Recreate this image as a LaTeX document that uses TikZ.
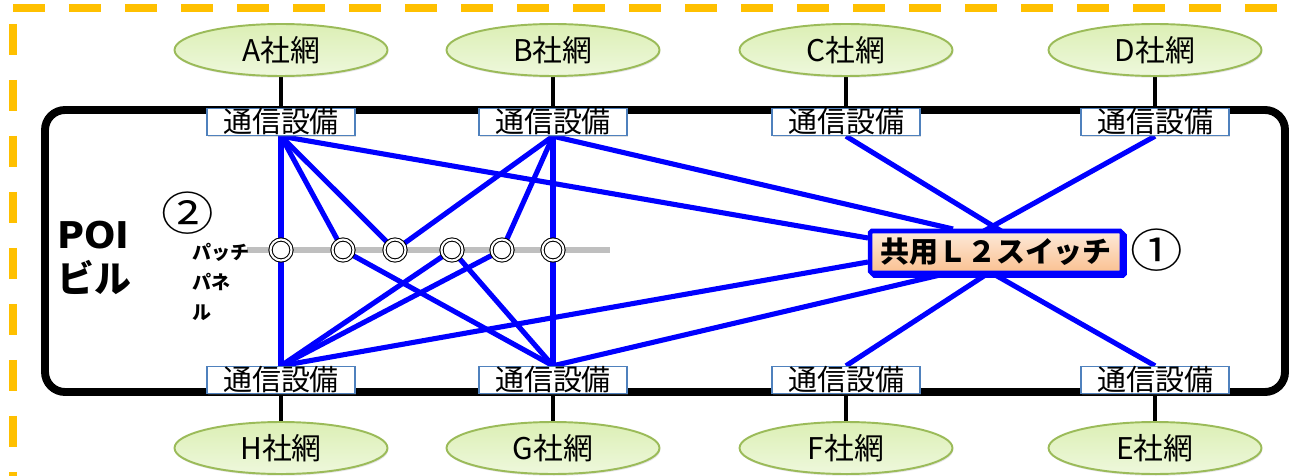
\documentclass[tikz,border=0pt]{standalone}
\usepackage{fontspec}
\setmainfont{Noto Sans CJK JP}
\newfontfamily\latinbold{DejaVu Sans}
\usetikzlibrary{shapes.geometric,calc,shadows}
\pgfdeclarelayer{bg}
\pgfsetlayers{bg,main}
\definecolor{poiorange}{HTML}{FFC000}
\definecolor{netgreen}{HTML}{9BBB59}
\definecolor{netfilltop}{HTML}{DCEFB5}
\definecolor{netfillbot}{HTML}{EEF8DC}
\definecolor{boxblue}{HTML}{4F81BD}
\definecolor{swtop}{HTML}{FDEADA}
\definecolor{swbot}{HTML}{FAC090}
\definecolor{panelgray}{HTML}{BFBFBF}
\tikzstyle{net} = [ellipse,draw=netgreen,line width=1.1pt,top color=netfilltop,bottom color=netfillbot,minimum width=4.26cm,minimum height=1.04cm,inner sep=0pt,font=\fontsize{17}{18}\selectfont,drop shadow={opacity=0.2,shadow xshift=0.5pt,shadow yshift=-1pt}]
\tikzstyle{eq} = [rectangle,draw=boxblue,line width=0.8pt,fill=white,minimum width=2.96cm,minimum height=0.54cm,inner sep=0pt,font=\fontsize{16.5}{18}\selectfont,drop shadow={opacity=0.25,shadow xshift=0.6pt,shadow yshift=-1pt}]
\tikzstyle{port} = [circle,draw=black,double=white,double distance=1.2pt,line width=0.6pt,fill=white,minimum size=0.42cm,inner sep=0pt]
\tikzstyle{sw} = [rectangle,draw=blue,line width=2.6pt,top color=swtop,bottom color=swbot,minimum width=5.04cm,minimum height=0.84cm,inner sep=0pt,rounded corners=1pt,font=\bfseries\fontsize{16.5}{18}\selectfont,copy shadow={shadow xshift=1.5pt,shadow yshift=-1.5pt}]
\tikzstyle{link} = [blue,line width=2.9pt]
\tikzstyle{drop} = [black,line width=1.8pt]

\begin{document}
\begin{tikzpicture}[x=0.02cm,y=-0.02cm]
  \useasboundingbox (0,0) rectangle (1291,476);
  \draw[poiorange,line width=4.5pt,dash pattern=on 0.64cm off 0.48cm] (13,8) -- (1291,8);
  \draw[poiorange,line width=4.5pt,dash pattern=on 0.62cm off 0.5cm] (13,24) -- (13,476);
  \node[net] (A) at (281,50) {A社網};
  \node[net] (B) at (553,50) {B社網};
  \node[net] (C) at (846,50) {C社網};
  \node[net] (D) at (1155,50) {D社網};
  \node[net] (H) at (281,448) {H社網};
  \node[net] (G) at (553,448) {G社網};
  \node[net] (F) at (846,448) {F社網};
  \node[net] (E) at (1155,448) {E社網};
  \node[eq] (eqA) at (281,122) {通信設備};
  \node[eq] (eqB) at (553,122) {通信設備};
  \node[eq] (eqC) at (846,122) {通信設備};
  \node[eq] (eqD) at (1155,122) {通信設備};
  \node[eq] (eqH) at (281,380) {通信設備};
  \node[eq] (eqG) at (553,380) {通信設備};
  \node[eq] (eqF) at (846,380) {通信設備};
  \node[eq] (eqE) at (1155,380) {通信設備};
  \node[port] (p1) at (281,250) {};
  \node[port] (p2) at (343,250) {};
  \node[port] (p3) at (395,250) {};
  \node[port] (p4) at (452,250) {};
  \node[port] (p5) at (502,250) {};
  \node[port] (p6) at (553,250) {};
  \node[sw] (sw) at (996,252) {共用Ｌ２スイッチ};
  \node[font=\fontsize{26}{28}\selectfont] (one) at (1157,250) {\scalebox{1.15}[1]{①}};
  \node[font=\fontsize{26}{28}\selectfont] (two) at (188,213) {\scalebox{1.15}[1]{②}};
  \node[anchor=west,align=left,inner sep=0pt,font=\bfseries\fontsize{21}{25.5}\selectfont] (poi) at (57,258) {{\latinbold POI}\\ビル};
  \node[anchor=west,align=left,inner sep=0pt,font=\bfseries\fontsize{10.8}{17}\selectfont] (patch) at (192,282) {パッチ\\パネ\\ル};
  \coordinate (swA) at (868,238);
  \coordinate (swB) at (953,229);
  \coordinate (swH) at (868,262);
  \coordinate (swG) at (940,275);
  \coordinate (swN) at (993,226);
  \coordinate (swS) at (990,272);
  \begin{pgfonlayer}{bg}
    \draw[line width=4.5pt,rounded corners=0.4cm] (45,110) rectangle (1285,392);
    \draw[panelgray,line width=3.4pt] (247,250) -- (610,250);
    \foreach \n in {A,B,C,D,H,G,F,E}
      \draw[drop] (\n) -- (eq\n);
    \draw[link] (eqA.south) -- (p1) (p1) -- (eqH.north);
    \draw[link] (eqA.south) -- (p2) (p2) -- (eqG.north);
    \draw[link] (eqA.south) -- (p3) (p3) -- (eqB.south);
    \draw[link] (eqH.north) -- (p4) (p4) -- (eqG.north);
    \draw[link] (eqB.south) -- (p5) (p5) -- (eqH.north);
    \draw[link] (eqB.south) -- (p6) (p6) -- (eqG.north);
    \draw[link] (eqA.south) -- (swA);
    \draw[link] (eqB.south) -- (swB);
    \draw[link] (eqH.north) -- (swH);
    \draw[link] (eqG.north) -- (swG);
    \draw[link] (eqC.south) -- ($(eqC.south)!1.2!(swN)$);
    \draw[link] (eqD.south) -- ($(eqD.south)!1.2!(swN)$);
    \draw[link] (eqF.north) -- ($(eqF.north)!1.2!(swS)$);
    \draw[link] (eqE.north) -- ($(eqE.north)!1.2!(swS)$);
  \end{pgfonlayer}
\end{tikzpicture}
\end{document}
